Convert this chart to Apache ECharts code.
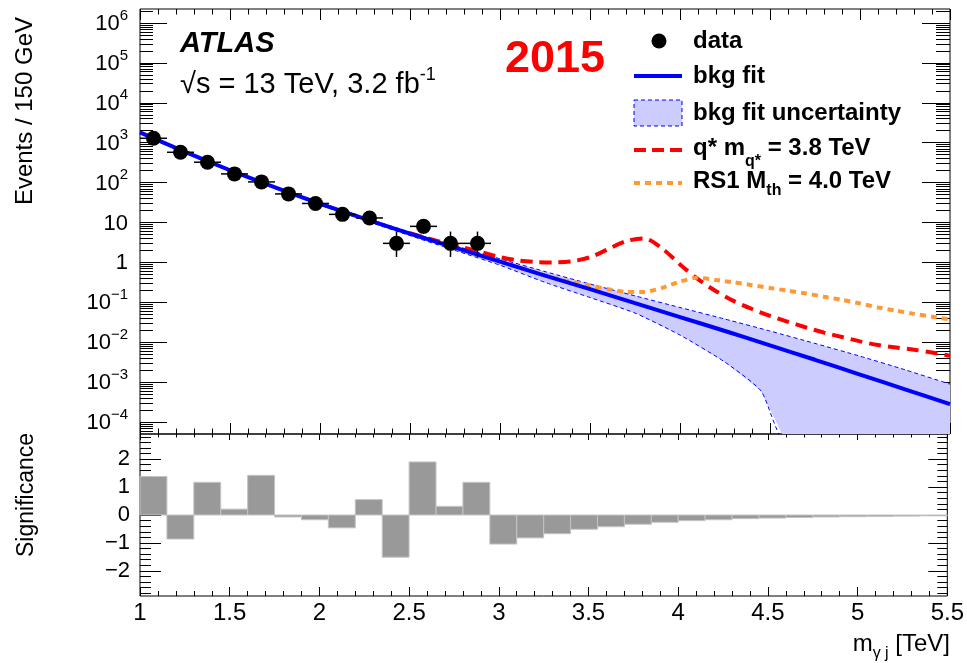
<!DOCTYPE html>
<html>
<head>
<meta charset="utf-8">
<title>ATLAS 2015 - m(gamma j)</title>
<script src="https://cdn.jsdelivr.net/npm/echarts@6/dist/echarts.min.js"></script>
<style>
  html, body { margin: 0; padding: 0; background: #fff; }
  #chart { width: 967px; height: 663px; }
</style>
</head>
<body>
<div id="chart"></div>
<script>
// ---- data (events / 150 GeV) ----
var dataX = [1.075, 1.225, 1.375, 1.525, 1.675, 1.825, 1.975, 2.125, 2.275, 2.425, 2.575, 2.725, 2.875];
var dataY = [1290, 575, 324, 165, 104, 52, 30, 16, 13, 3, 8, 3, 3];
var dataErrLo = [35.4, 23.5, 17.5, 12.3, 9.7, 7.2, 5.4, 3.9, 3.6, 1.63, 2.77, 1.63, 1.63];
var dataErrHi = [36.4, 24.5, 18.5, 13.3, 10.7, 8.2, 6.5, 5.1, 4.7, 2.92, 3.95, 2.92, 2.92];
var dataHalfBin = 0.075;

// background fit and its uncertainty band
var fitX   = [1.0, 1.25, 1.5, 1.75, 2.0, 2.25, 2.5, 2.75, 3.0, 3.25, 3.5, 3.75, 4.0, 4.25, 4.5, 4.75, 5.0, 5.25, 5.5];
var fitY   = [1820, 589, 204, 75.9, 29.5, 12.3, 5.25, 2.34, 1.05, 0.468, 0.214, 0.0955, 0.0427, 0.0191, 0.00832, 0.00363, 0.00155, 0.00066, 0.00028];
var fitUp  = [1905, 617, 214, 79.4, 31.6, 13.2, 5.75, 2.63, 1.23, 0.589, 0.288, 0.145, 0.0741, 0.038, 0.0191, 0.00933, 0.00447, 0.00204, 0.00089];
var fitLowX = [1.0, 1.25, 1.5, 1.75, 2.0, 2.25, 2.5, 2.75, 3.0, 3.25, 3.5, 3.75, 4.0, 4.25, 4.45, 4.6, 5.5];
var fitLow  = [1738, 562, 195, 72.4, 27.5, 11.2, 4.68, 2.0, 0.851, 0.316, 0.132, 0.0537, 0.0151, 0.00316, 0.0006, 0.000025, 0.00001];

// signal + background curves
var qstarX = [2.5, 2.6, 2.7, 2.8, 2.9, 3.0, 3.1, 3.2, 3.3, 3.4, 3.5, 3.6, 3.7, 3.8, 3.9, 4.0, 4.1, 4.2, 4.3, 4.4, 4.5, 4.6, 4.7, 4.8, 4.9, 5.0, 5.1, 5.2, 5.3, 5.4, 5.5];
var qstarY = [5.37, 3.98, 3.02, 2.34, 1.78, 1.35, 1.12, 1.02, 1.0, 1.07, 1.35, 2.14, 3.39, 3.98, 2.24, 0.89, 0.38, 0.19, 0.107, 0.068, 0.0457, 0.0324, 0.0234, 0.0174, 0.0135, 0.0105, 0.0085, 0.0074, 0.0065, 0.0055, 0.0046];
var rsX = [3.0, 3.1, 3.2, 3.3, 3.4, 3.5, 3.6, 3.7, 3.8, 3.9, 4.0, 4.1, 4.2, 4.3, 4.4, 4.5, 4.6, 4.7, 4.8, 4.9, 5.0, 5.1, 5.2, 5.3, 5.4, 5.5];
var rsY = [1.05, 0.759, 0.55, 0.407, 0.324, 0.263, 0.214, 0.182, 0.182, 0.229, 0.331, 0.417, 0.363, 0.316, 0.269, 0.229, 0.195, 0.166, 0.138, 0.115, 0.0933, 0.0741, 0.0617, 0.0513, 0.0437, 0.0372];

// significance per bin
var sigEdges = [1.0, 1.15, 1.3, 1.45, 1.6, 1.75, 1.9, 2.05, 2.2, 2.35, 2.5, 2.65, 2.8, 2.95, 3.1, 3.25, 3.4, 3.55, 3.7, 3.85, 4.0, 4.15, 4.3, 4.45, 4.6, 4.75, 4.9, 5.05, 5.2, 5.35, 5.5];
var sigValues = [1.38, -0.86, 1.17, 0.21, 1.42, -0.07, -0.17, -0.46, 0.55, -1.51, 1.90, 0.31, 1.17, -1.04, -0.82, -0.67, -0.51, -0.42, -0.33, -0.26, -0.20, -0.17, -0.13, -0.11, -0.09, -0.07, -0.06, -0.05, -0.04, -0.03];

// axis ticks
var logExps = [-4, -3, -2, -1, 0, 1, 2, 3, 4, 5, 6];
var logMinorMult = [2, 3, 4, 5, 6, 7, 8, 9];
var sigTicks = [-2, -1, 0, 1, 2];
var sigMinorTicks = [-2.8, -2.6, -2.4, -2.2, -1.8, -1.6, -1.4, -1.2, -0.8, -0.6, -0.4, -0.2, 0.2, 0.4, 0.6, 0.8, 1.2, 1.4, 1.6, 1.8, 2.2, 2.4, 2.6, 2.8];

var FONT = "'Liberation Sans', Arial, Helvetica, sans-serif";
var lg = Math.log10;

var logMinor = [];
logExps.concat([-5]).forEach(function (e) {
  logMinorMult.forEach(function (m) { logMinor.push(lg(m) + e); });
});

function pairs(xs, ys) {
  return xs.map(function (x, i) { return [x, lg(ys[i])]; });
}

function expLabel(v) {
  var n = Math.round(v);
  if (n === 0) return '{b|1}';
  if (n === 1) return '{b|10}';
  return '{b|10}{s|' + (n < 0 ? '\u2212' + (-n) : n) + '}';
}

var chart = echarts.init(document.getElementById('chart'));

var LOGMIN = -4.30, LOGMAX = 6.35;
var SIGMIN = -2.9, SIGMAX = 2.9;

function xAx(grid, pos, major, minor, labels) {
  return {
    type: 'value', gridIndex: grid, position: pos, min: 1, max: 5.5, interval: 0.5,
    axisLine: { show: false, onZero: false },
    axisTick: { show: true, inside: true, length: major, lineStyle: { color: '#000', width: 1 } },
    minorTick: { show: true, splitNumber: 5, length: minor, lineStyle: { color: '#000', width: 1 } },
    splitLine: { show: false },
    axisLabel: labels ? { show: true, color: '#000', fontFamily: FONT, fontSize: 24, margin: 5 } : { show: false }
  };
}

function yAx(grid, pos, min, max, ticks, len, label) {
  var ax = {
    type: 'value', gridIndex: grid, position: pos, min: min, max: max,
    axisLine: { show: false, onZero: false },
    axisTick: { show: true, inside: true, length: len, customValues: ticks, lineStyle: { color: '#000', width: 1 } },
    splitLine: { show: false },
    axisLabel: { show: false }
  };
  if (label) ax.axisLabel = label;
  return ax;
}

var option = {
  animation: false,
  backgroundColor: '#fff',
  grid: [
    { left: 140, top: 9, width: 810, height: 425, show: true, borderColor: '#000', borderWidth: 1, backgroundColor: 'transparent' },
    { left: 140, top: 434, width: 810, height: 162, show: true, borderColor: '#000', borderWidth: 1, backgroundColor: 'transparent' }
  ],
  xAxis: [
    xAx(0, 'bottom', 11, 5.5, false),
    xAx(0, 'top', 11, 5.5, false),
    xAx(1, 'bottom', 9, 5, true),
    xAx(1, 'top', 6, 3.5, false)
  ],
  yAxis: [
    yAx(0, 'left', LOGMIN, LOGMAX, logExps, 27, {
      show: true, customValues: logExps, margin: 12, formatter: expLabel,
      rich: {
        b: { fontFamily: FONT, fontSize: 22, color: '#000', lineHeight: 24, verticalAlign: 'bottom' },
        s: { fontFamily: FONT, fontSize: 15, color: '#000', lineHeight: 16, padding: [0, 0, 12, 0], verticalAlign: 'bottom' }
      }
    }),
    yAx(0, 'left', LOGMIN, LOGMAX, logMinor, 13),
    yAx(0, 'right', LOGMIN, LOGMAX, logExps, 28),
    yAx(0, 'right', LOGMIN, LOGMAX, logMinor, 14),
    yAx(1, 'left', SIGMIN, SIGMAX, sigTicks, 21, {
      show: true, customValues: sigTicks, margin: 10, color: '#000', fontFamily: FONT, fontSize: 22,
      formatter: function (v) { return v < 0 ? '\u2212' + (-v) : String(v); }
    }),
    yAx(1, 'left', SIGMIN, SIGMAX, sigMinorTicks, 11),
    yAx(1, 'right', SIGMIN, SIGMAX, sigTicks, 19),
    yAx(1, 'right', SIGMIN, SIGMAX, sigMinorTicks, 10)
  ],
  series: [
    {
      // uncertainty band fill
      type: 'custom', xAxisIndex: 0, yAxisIndex: 0, clip: true, z: 1,
      data: [[fitX[0], lg(fitY[0])]],
      renderItem: function (params, api) {
        var pts = [];
        for (var i = 0; i < fitX.length; i++) pts.push(api.coord([fitX[i], lg(fitUp[i])]));
        for (var j = fitLowX.length - 1; j >= 0; j--) pts.push(api.coord([fitLowX[j], lg(fitLow[j])]));
        return { type: 'polygon', shape: { points: pts }, style: { fill: '#ccccff', stroke: null } };
      }
    },
    {
      type: 'line', xAxisIndex: 0, yAxisIndex: 0, z: 2, showSymbol: false, smooth: 0.2,
      data: pairs(fitX, fitUp), lineStyle: { color: '#0000ff', width: 1, type: [4, 3] }
    },
    {
      type: 'line', xAxisIndex: 0, yAxisIndex: 0, z: 2, showSymbol: false, smooth: 0.2,
      data: pairs(fitLowX, fitLow), lineStyle: { color: '#0000ff', width: 1, type: [4, 3] }
    },
    {
      type: 'line', xAxisIndex: 0, yAxisIndex: 0, z: 3, showSymbol: false, smooth: 0.3,
      data: pairs(qstarX, qstarY), lineStyle: { color: '#ff0000', width: 4, type: [12, 7] }
    },
    {
      type: 'line', xAxisIndex: 0, yAxisIndex: 0, z: 3, showSymbol: false, smooth: 0.2,
      data: pairs(rsX, rsY), lineStyle: { color: '#ff9933', width: 4, type: [6, 5] }
    },
    {
      type: 'line', xAxisIndex: 0, yAxisIndex: 0, z: 4, showSymbol: false, smooth: 0.2,
      data: pairs(fitX, fitY), lineStyle: { color: '#0000ff', width: 4 }
    },
    {
      // data error bars
      type: 'custom', xAxisIndex: 0, yAxisIndex: 0, z: 5,
      data: dataX.map(function (x, i) {
        return [x, lg(dataY[i]), lg(dataY[i] - dataErrLo[i]), lg(dataY[i] + dataErrHi[i])];
      }),
      encode: { x: 0, y: 1 },
      renderItem: function (params, api) {
        var x = api.value(0), y = api.value(1);
        var l = api.coord([x - dataHalfBin, y]), r = api.coord([x + dataHalfBin, y]);
        var t = api.coord([x, api.value(3)]), b = api.coord([x, api.value(2)]);
        return {
          type: 'group', children: [
            { type: 'line', shape: { x1: l[0], y1: l[1], x2: r[0], y2: r[1] }, style: { stroke: '#000', lineWidth: 1.5 } },
            { type: 'line', shape: { x1: t[0], y1: t[1], x2: b[0], y2: b[1] }, style: { stroke: '#000', lineWidth: 1.5 } }
          ]
        };
      }
    },
    {
      type: 'scatter', xAxisIndex: 0, yAxisIndex: 0, z: 6, symbol: 'circle', symbolSize: 15,
      itemStyle: { color: '#000', opacity: 1 },
      data: pairs(dataX, dataY)
    },
    {
      // significance histogram
      type: 'custom', xAxisIndex: 2, yAxisIndex: 4, z: 2,
      data: sigValues.map(function (v, i) { return [sigEdges[i], sigEdges[i + 1], v]; }),
      encode: { x: [0, 1], y: 2 },
      renderItem: function (params, api) {
        var a = api.coord([api.value(0), 0]), b = api.coord([api.value(1), api.value(2)]);
        return {
          type: 'rect',
          shape: { x: a[0], y: Math.min(a[1], b[1]), width: b[0] - a[0], height: Math.abs(b[1] - a[1]) },
          style: { fill: '#999999', stroke: '#c4c4c4', lineWidth: 1 }
        };
      }
    }
  ],
  graphic: [
    { type: 'text', x: 25, y: 17, rotation: Math.PI / 2,
      style: { text: 'Events / 150 GeV', font: '24px ' + FONT, fill: '#000', textAlign: 'right', verticalAlign: 'middle' } },
    { type: 'text', x: 27, y: 433, rotation: Math.PI / 2,
      style: { text: 'Significance', font: '23px ' + FONT, fill: '#000', textAlign: 'right', verticalAlign: 'middle' } },
    { type: 'text', x: 950, y: 632,
      style: {
        text: '{b|m}{sub|\u03b3 j}{b| [TeV]}', textAlign: 'right', verticalAlign: 'top',
        rich: {
          b: { fontFamily: FONT, fontSize: 24, color: '#000', lineHeight: 28, verticalAlign: 'top' },
          sub: { fontFamily: FONT, fontSize: 16, color: '#000', lineHeight: 16, padding: [14, 0, 0, 0], verticalAlign: 'top' }
        }
      } },
    { type: 'text', x: 180, y: 44,
      style: { text: 'ATLAS', font: 'italic bold 29px ' + FONT, fill: '#000', textAlign: 'left', verticalAlign: 'middle' } },
    { type: 'text', x: 180, y: 65,
      style: {
        text: '{b|\u221as = 13 TeV, 3.2 fb}{s|-1}', textAlign: 'left', verticalAlign: 'top',
        rich: {
          b: { fontFamily: FONT, fontSize: 29, color: '#000', lineHeight: 34, verticalAlign: 'bottom' },
          s: { fontFamily: FONT, fontSize: 18, color: '#000', lineHeight: 18, padding: [0, 0, 15, 0], verticalAlign: 'bottom' }
        }
      } },
    { type: 'text', x: 505, y: 60,
      style: { text: '2015', font: 'bold 45px ' + FONT, fill: '#ff0000', textAlign: 'left', verticalAlign: 'middle' } },

    // legend
    { type: 'circle', shape: { cx: 659, cy: 41, r: 7.5 }, style: { fill: '#000' } },
    { type: 'text', x: 693, y: 41, style: { text: 'data', font: 'bold 24px ' + FONT, fill: '#000', verticalAlign: 'middle' } },
    { type: 'line', shape: { x1: 634, y1: 76, x2: 682, y2: 76 }, style: { stroke: '#0000ff', lineWidth: 4 } },
    { type: 'text', x: 693, y: 76, style: { text: 'bkg fit', font: 'bold 24px ' + FONT, fill: '#000', verticalAlign: 'middle' } },
    { type: 'rect', shape: { x: 634, y: 100, width: 48, height: 26 }, style: { fill: '#ccccff', stroke: '#0000ff', lineWidth: 1, lineDash: [4, 3] } },
    { type: 'text', x: 693, y: 113, style: { text: 'bkg fit uncertainty', font: 'bold 24px ' + FONT, fill: '#000', verticalAlign: 'middle' } },
    { type: 'line', shape: { x1: 634, y1: 150, x2: 682, y2: 150 }, style: { stroke: '#ff0000', lineWidth: 4, lineDash: [12, 6] } },
    { type: 'text', x: 693, y: 136,
      style: {
        text: '{b|q* m}{sub|q*}{b| = 3.8 TeV}', verticalAlign: 'top',
        rich: {
          b: { fontFamily: FONT, fontWeight: 'bold', fontSize: 24, color: '#000', lineHeight: 28, verticalAlign: 'top' },
          sub: { fontFamily: FONT, fontWeight: 'bold', fontSize: 16, color: '#000', lineHeight: 16, padding: [18, 0, 0, 0], verticalAlign: 'top' }
        }
      } },
    { type: 'line', shape: { x1: 634, y1: 183, x2: 682, y2: 183 }, style: { stroke: '#ff9933', lineWidth: 4, lineDash: [6, 5] } },
    { type: 'text', x: 693, y: 169,
      style: {
        text: '{b|RS1 M}{sub|th}{b| = 4.0 TeV}', verticalAlign: 'top',
        rich: {
          b: { fontFamily: FONT, fontWeight: 'bold', fontSize: 24, color: '#000', lineHeight: 28, verticalAlign: 'top' },
          sub: { fontFamily: FONT, fontWeight: 'bold', fontSize: 16, color: '#000', lineHeight: 16, padding: [14, 0, 0, 0], verticalAlign: 'top' }
        }
      } }
  ]
};

chart.setOption(option);
</script>
</body>
</html>
